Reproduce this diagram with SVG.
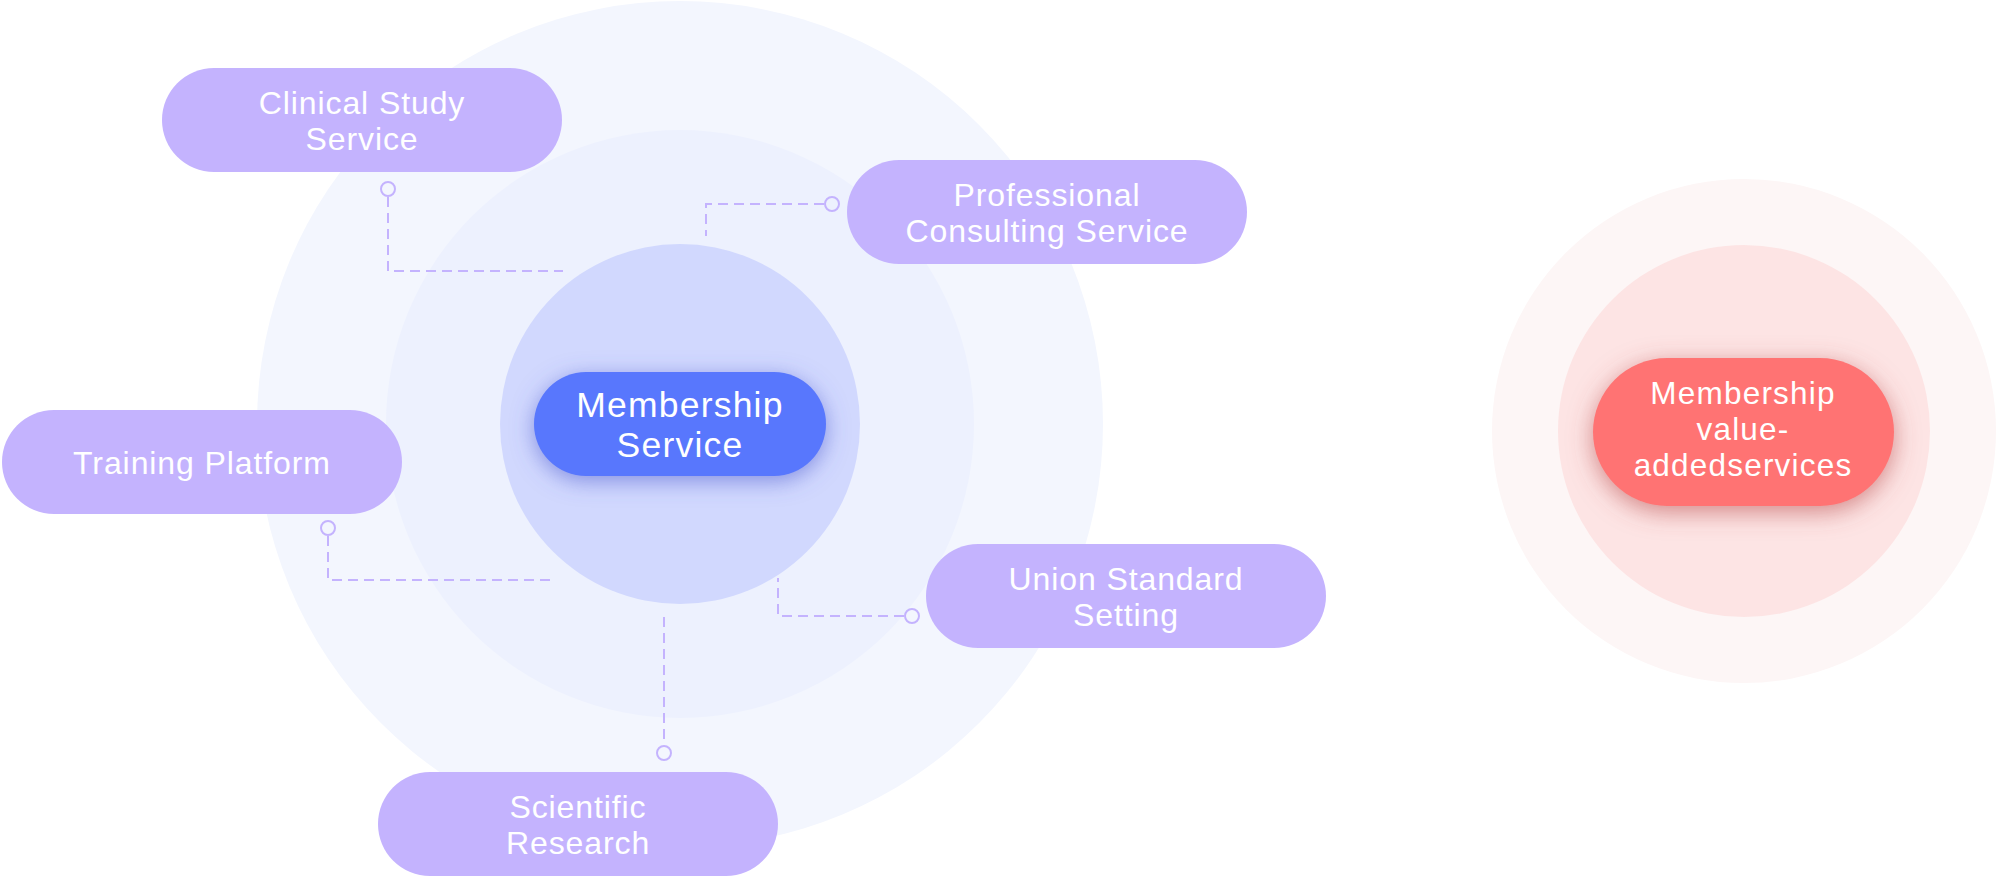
<svg xmlns="http://www.w3.org/2000/svg" width="1998" height="876" viewBox="0 0 1998 876">
  <defs>
    <style>
      .pill { fill: #C4B3FE; }
      .lbl { font-family: "Liberation Sans", Arial, sans-serif; font-size: 32px; letter-spacing: 0.9px; fill: #FFFFFF; text-anchor: middle; }
      .lbl-main { font-family: "Liberation Sans", Arial, sans-serif; font-size: 35.5px; letter-spacing: 1.2px; fill: #FFFFFF; text-anchor: middle; }
      .lbl-red { font-family: "Liberation Sans", Arial, sans-serif; font-size: 31.5px; letter-spacing: 1.2px; fill: #FFFFFF; text-anchor: middle; }
      .conn { fill: none; stroke: #C4B3FE; stroke-width: 2; stroke-dasharray: 10 6; }
      .dot { fill: none; stroke: #C4B3FE; stroke-width: 2; }
    </style>
    <filter id="blueGlow" x="-30%" y="-50%" width="160%" height="200%">
      <feDropShadow dx="0" dy="5" stdDeviation="11" flood-color="#4F5FD0" flood-opacity="0.6"/>
    </filter>
    <filter id="redGlow" x="-30%" y="-50%" width="160%" height="200%">
      <feDropShadow dx="0" dy="6" stdDeviation="12" flood-color="#B84848" flood-opacity="0.6"/>
    </filter>
  </defs>

  <rect width="1998" height="876" fill="#FFFFFF"/>

  <g id="rings-left">
    <circle cx="680" cy="424" r="423" fill="#F3F6FE"/>
    <circle cx="680" cy="424" r="294" fill="#EDF1FE"/>
    <circle cx="680" cy="424" r="180" fill="#D1D8FE"/>
  </g>

  <g id="rings-right">
    <circle cx="1744" cy="431" r="252" fill="#FDF6F6"/>
    <circle cx="1744" cy="431" r="186" fill="#FDE4E4"/>
  </g>

  <g id="connectors">
    <path class="conn" d="M388 197 V271 H563"/>
    <path class="conn" d="M824 204 H706 V236"/>
    <path class="conn" d="M328 536 V580 H552"/>
    <path class="conn" d="M904 616 H778 V578"/>
    <path class="conn" d="M664 617 V745"/>
    <circle class="dot" cx="388" cy="189" r="7"/>
    <circle class="dot" cx="832" cy="204" r="7"/>
    <circle class="dot" cx="328" cy="528" r="7"/>
    <circle class="dot" cx="912" cy="616" r="7"/>
    <circle class="dot" cx="664" cy="753" r="7"/>
  </g>

  <g id="node-membership-service">
    <rect x="534" y="372" width="292" height="104" rx="52" fill="#5877FD" filter="url(#blueGlow)"/>
    <text class="lbl-main" x="680" y="417">Membership</text>
    <text class="lbl-main" x="680" y="457">Service</text>
  </g>

  <g id="node-clinical-study">
    <rect class="pill" x="162" y="68" width="400" height="104" rx="52"/>
    <text class="lbl" x="362" y="114">Clinical Study</text>
    <text class="lbl" x="362" y="150">Service</text>
  </g>

  <g id="node-professional-consulting">
    <rect class="pill" x="847" y="160" width="400" height="104" rx="52"/>
    <text class="lbl" x="1047" y="206">Professional</text>
    <text class="lbl" x="1047" y="242">Consulting Service</text>
  </g>

  <g id="node-training-platform">
    <rect class="pill" x="2" y="410" width="400" height="104" rx="52"/>
    <text class="lbl" x="202" y="474">Training Platform</text>
  </g>

  <g id="node-union-standard">
    <rect class="pill" x="926" y="544" width="400" height="104" rx="52"/>
    <text class="lbl" x="1126" y="590">Union Standard</text>
    <text class="lbl" x="1126" y="626">Setting</text>
  </g>

  <g id="node-scientific-research">
    <rect class="pill" x="378" y="772" width="400" height="104" rx="52"/>
    <text class="lbl" x="578" y="818">Scientific</text>
    <text class="lbl" x="578" y="854">Research</text>
  </g>

  <g id="node-value-added">
    <rect x="1593" y="358" width="301" height="148" rx="74" fill="#FF7373" filter="url(#redGlow)"/>
    <text class="lbl-red" x="1743" y="404">Membership</text>
    <text class="lbl-red" x="1743" y="440">value-</text>
    <text class="lbl-red" x="1743" y="476">addedservices</text>
  </g>
</svg>
